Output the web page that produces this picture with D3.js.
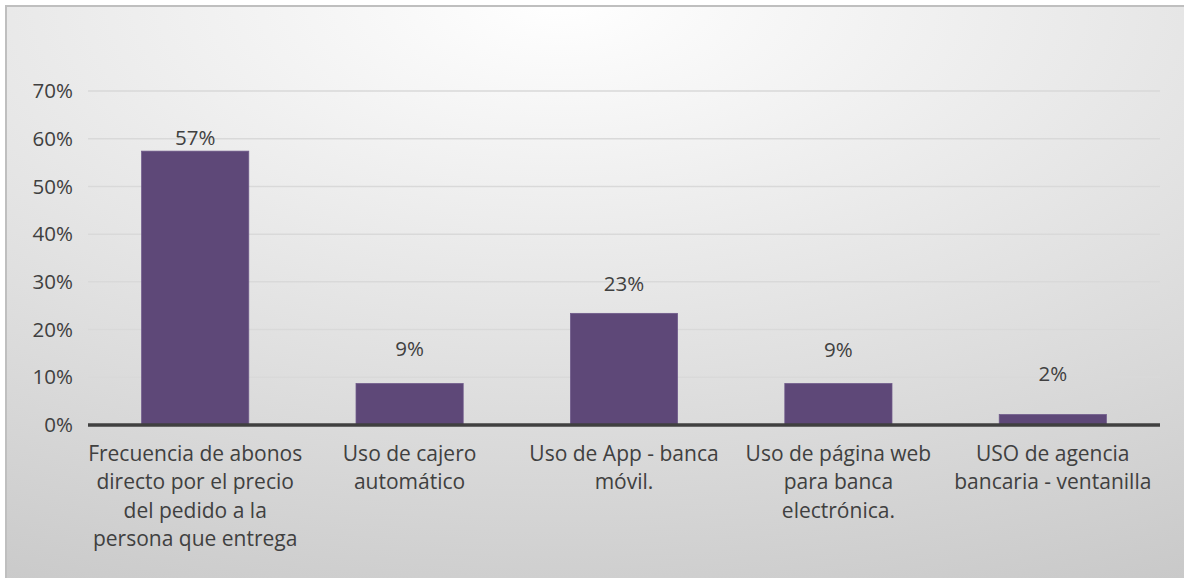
<!DOCTYPE html>
<html>
<head>
<meta charset="utf-8">
<script src="https://cdn.jsdelivr.net/npm/d3@7"></script>
<style>
  html, body { margin: 0; padding: 0; background: #fff; }
  svg { display: block; }
  text { font-family: "Open Sans", sans-serif; fill: #404040; }
</style>
</head>
<body>
<div id="chart"></div>
<script>
// chart values
const categories = [
  ['Frecuencia de abonos', 'directo por el precio', 'del pedido a la', 'persona que entrega'],
  ['Uso de cajero', 'automático'],
  ['Uso de App - banca', 'móvil.'],
  ['Uso de página web', 'para banca', 'electrónica.'],
  ['USO de agencia', 'bancaria - ventanilla']
];
const values = [0.574, 0.087, 0.234, 0.087, 0.022];
const yTicks = [0, 0.1, 0.2, 0.3, 0.4, 0.5, 0.6, 0.7];

// how far above each bar its label sits (labels were moved by hand in the original)
const labelGap = [13, 35, 30, 34, 41];

const W = 1184, H = 578;
const margin = { top: 91, right: 24, bottom: 153, left: 88 };
const width = W - margin.left - margin.right;
const height = H - margin.top - margin.bottom;

const svg = d3.select('#chart').append('svg')
  .attr('width', W)
  .attr('height', H);

// background gradient, wider than tall
const defs = svg.append('defs');
const grad = defs.append('radialGradient')
  .attr('id', 'bg')
  .attr('gradientUnits', 'userSpaceOnUse')
  .attr('cx', 560).attr('cy', 0).attr('r', 1475)
  .attr('gradientTransform', 'translate(560,0) scale(1,0.482) translate(-560,0)');
grad.append('stop').attr('offset', '0%').attr('stop-color', '#ffffff');
grad.append('stop').attr('offset', '100%').attr('stop-color', '#c4c4c4');

svg.append('rect')
  .attr('x', 6).attr('y', 6)
  .attr('width', W).attr('height', H)
  .attr('fill', 'url(#bg)')
  .attr('stroke', '#bfbfbf')
  .attr('stroke-width', 2);

const g = svg.append('g')
  .attr('transform', 'translate(' + margin.left + ',' + margin.top + ')');

const x = d3.scaleBand()
  .domain(d3.range(categories.length))
  .range([0, width])
  .paddingInner(0.5)
  .paddingOuter(0.25);

const y = d3.scaleLinear()
  .domain([0, 0.7])
  .range([height, 0]);

// gridlines
g.selectAll('.grid')
  .data(yTicks.slice(1))
  .enter().append('line')
  .attr('class', 'grid')
  .attr('x1', 0).attr('x2', width)
  .attr('y1', d => y(d)).attr('y2', d => y(d))
  .attr('stroke', '#d9d9d9')
  .attr('stroke-width', 1.5);

// y axis labels
g.selectAll('.ytick')
  .data(yTicks)
  .enter().append('text')
  .attr('class', 'ytick')
  .attr('x', -15)
  .attr('y', d => y(d))
  .attr('dy', '0.35em')
  .attr('text-anchor', 'end')
  .style('font-size', '20.5px')
  .text(d3.format('.0%'));

// bars
g.selectAll('.bar')
  .data(values)
  .enter().append('rect')
  .attr('class', 'bar')
  .attr('x', (d, i) => x(i))
  .attr('y', d => y(d))
  .attr('width', x.bandwidth())
  .attr('height', d => height - y(d))
  .attr('fill', '#5e4878')
  .attr('stroke', '#6f5a8a')
  .attr('stroke-width', 0.75);

// axis line
g.append('line')
  .attr('x1', 0).attr('x2', width)
  .attr('y1', height).attr('y2', height)
  .attr('stroke', '#404040')
  .attr('stroke-width', 3.5);

// data labels
g.selectAll('.val')
  .data(values)
  .enter().append('text')
  .attr('class', 'val')
  .attr('x', (d, i) => x(i) + x.bandwidth() / 2)
  .attr('y', (d, i) => y(d) - labelGap[i])
  .attr('dy', '0.35em')
  .attr('text-anchor', 'middle')
  .style('font-size', '20.5px')
  .text(d3.format('.0%'));

// category labels
const cat = g.selectAll('.cat')
  .data(categories)
  .enter().append('text')
  .attr('class', 'cat')
  .attr('x', (d, i) => x(i) + x.bandwidth() / 2)
  .attr('y', height + 36)
  .attr('text-anchor', 'middle')
  .style('font-size', '21px');

cat.selectAll('tspan')
  .data(d => d)
  .enter().append('tspan')
  .attr('x', function () { return d3.select(this.parentNode).attr('x'); })
  .attr('dy', (d, i) => i === 0 ? 0 : 28.3)
  .text(d => d);
</script>
</body>
</html>
